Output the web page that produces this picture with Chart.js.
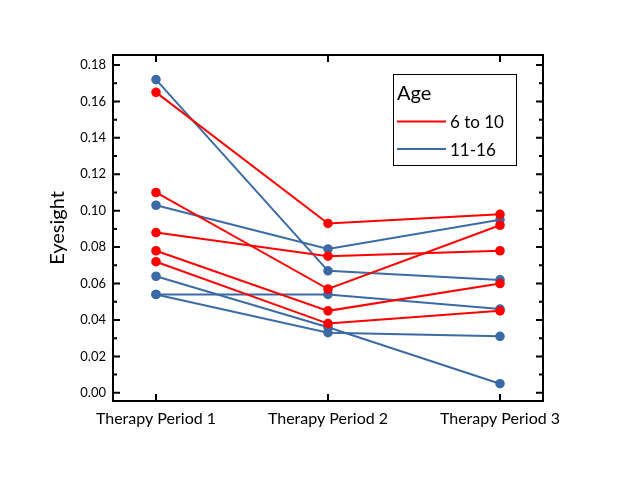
<!DOCTYPE html>
<html>
<head>
<meta charset="utf-8">
<script src="https://cdn.jsdelivr.net/npm/chart.js@4"></script>
<style>
html,body{margin:0;padding:0;background:#fff;}
#wrap{width:630px;height:482px;position:relative;}
</style>
</head>
<body>
<div id="wrap"><canvas id="c" width="630" height="482"></canvas></div>
<script>
const categories = ["Therapy Period 1", "Therapy Period 2", "Therapy Period 3"];
const groupNames = ["6 to 10", "11-16"];
const legendTitle = "Age";
const yTitle = "Eyesight";
// 6 to 10 group (red)
const red1 = [0.165, 0.093, 0.098];
const red2 = [0.110, 0.057, 0.092];
const red3 = [0.088, 0.075, 0.078];
const red4 = [0.078, 0.045, 0.060];
const red5 = [0.072, 0.038, 0.045];
// 11-16 group (blue)
const blue1 = [0.172, 0.067, 0.062];
const blue2 = [0.103, 0.079, 0.095];
const blue3 = [0.064, 0.036, 0.005];
const blue4 = [0.054, 0.054, 0.046];
const blue5 = [0.054, 0.033, 0.031];

const RED = "#FF0000";
const BLUE = "#3B6BA5";
const FONT = "Lato, 'Open Sans', sans-serif";

function mk(vals, color, group) {
  return {
    label: group,
    data: vals.map((v, i) => ({x: i + 1, y: v})),
    borderColor: color,
    backgroundColor: color,
    pointBackgroundColor: color,
    pointBorderColor: color,
    pointRadius: 3.8,
    pointHoverRadius: 3.8,
    borderWidth: 2,
    tension: 0
  };
}
const datasets = [
  mk(red1, RED, groupNames[0]), mk(red2, RED, groupNames[0]), mk(red3, RED, groupNames[0]),
  mk(red4, RED, groupNames[0]), mk(red5, RED, groupNames[0]),
  mk(blue1, BLUE, groupNames[1]), mk(blue2, BLUE, groupNames[1]), mk(blue3, BLUE, groupNames[1]),
  mk(blue4, BLUE, groupNames[1]), mk(blue5, BLUE, groupNames[1])
];

const framePlugin = {
  id: 'frame',
  afterDraw(chart) {
    const ctx = chart.ctx, a = chart.chartArea;
    const xs = chart.scales.x, ys = chart.scales.y;
    ctx.save();
    ctx.strokeStyle = '#000';
    ctx.lineWidth = 2;
    ctx.strokeRect(a.left, a.top, a.right - a.left, a.bottom - a.top);
    ctx.lineWidth = 2;
    ctx.beginPath();
    ys.ticks.forEach((t, i) => {
      const p = ys.getPixelForValue(t.value);
      ctx.moveTo(a.left, p); ctx.lineTo(a.left + 7, p);
      ctx.moveTo(a.right, p); ctx.lineTo(a.right - 7, p);
      const mv = t.value + 0.01;
      if (mv < ys.max) {
        const mp = ys.getPixelForValue(mv);
        ctx.moveTo(a.left, mp); ctx.lineTo(a.left + 4, mp);
        ctx.moveTo(a.right, mp); ctx.lineTo(a.right - 4, mp);
      }
    });
    xs.ticks.forEach(t => {
      const p = xs.getPixelForValue(t.value);
      ctx.moveTo(p, a.bottom); ctx.lineTo(p, a.bottom - 7);
      ctx.moveTo(p, a.top); ctx.lineTo(p, a.top + 7);
    });
    ctx.stroke();

    const lx = 393, ly = 74, lw = 123, lh = 91;
    ctx.fillStyle = '#fff';
    ctx.lineWidth = 1;
    ctx.fillRect(lx, ly, lw, lh);
    ctx.strokeRect(lx + 0.5, ly + 0.5, lw, lh);
    ctx.fillStyle = '#000';
    ctx.textBaseline = 'alphabetic';
    ctx.textAlign = 'left';
    ctx.font = "20px " + FONT;
    ctx.fillText(legendTitle, 397, 100);
    const items = [[groupNames[0], RED, 121.5, 128], [groupNames[1], BLUE, 149, 156]];
    ctx.font = "17px " + FONT;
    items.forEach(([txt, col, lyy, ty]) => {
      ctx.strokeStyle = col; ctx.lineWidth = 2;
      ctx.beginPath(); ctx.moveTo(397, lyy); ctx.lineTo(446, lyy); ctx.stroke();
      ctx.fillStyle = '#000';
      ctx.fillText(txt, 450, ty);
    });
    ctx.restore();
  }
};

new Chart(document.getElementById('c'), {
  type: 'line',
  data: { datasets },
  options: {
    responsive: false,
    animation: false,
    devicePixelRatio: 1,
    layout: { padding: { left: 0, top: 55, right: 87, bottom: 0 } },
    plugins: { legend: { display: false }, tooltip: { enabled: false } },
    scales: {
      x: {
        type: 'linear',
        min: 0.75, max: 3.25,
        afterFit(s) { s.height = 81; },
        grid: { display: false, drawTicks: false },
        border: { display: false },
        ticks: {
          stepSize: 1,
          includeBounds: false,
          autoSkip: false,
          maxRotation: 0,
          padding: 8,
          color: '#000',
          font: { family: FONT, size: 16 },
          callback: v => (Number.isInteger(v) && v >= 1 && v <= categories.length) ? categories[v - 1] : ''
        }
      },
      y: {
        min: -0.0045, max: 0.1855,
        afterFit(s) { s.width = 113; },
        grid: { display: false, drawTicks: false },
        border: { display: false },
        title: { display: true, text: yTitle, color: '#000', font: { family: FONT, size: 20 }, padding: { top: 46, bottom: 0 } },
        ticks: {
          stepSize: 0.02,
          includeBounds: false,
          padding: 7,
          color: '#000',
          font: { family: FONT, size: 13 },
          callback: v => v.toFixed(2)
        }
      }
    }
  },
  plugins: [framePlugin]
});
</script>
</body>
</html>
